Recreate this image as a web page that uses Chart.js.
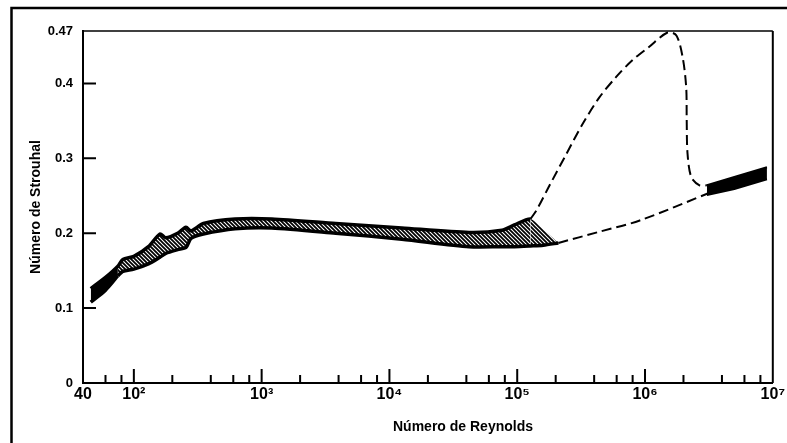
<!DOCTYPE html>
<html>
<head>
<meta charset="utf-8">
<script src="https://cdn.jsdelivr.net/npm/chart.js@4"></script>
<style>
  html, body { margin: 0; padding: 0; background: #fff; }
</style>
</head>
<body>
<canvas id="chart" width="787" height="443"></canvas>
<script>
// Faixa principal (hachurada): bordas superior e inferior no mesmo Re
const bandRe    = [46, 60, 75, 82, 100, 130, 160, 178, 220, 256, 280, 350, 620, 1200, 3800, 12500, 42000, 76000, 95000, 127000, 160000, 210000];
const bandUpper = [0.126, 0.141, 0.156, 0.165, 0.169, 0.182, 0.199, 0.194, 0.200, 0.208, 0.203, 0.213, 0.219, 0.219, 0.213, 0.207, 0.201, 0.204, 0.211, 0.219, 0.205, 0.187];
const bandLower = [0.108, 0.124, 0.143, 0.149, 0.152, 0.159, 0.168, 0.173, 0.178, 0.181, 0.193, 0.199, 0.206, 0.207, 0.200, 0.192, 0.182, 0.182, 0.182, 0.183, 0.184, 0.187];

// Ramo superior tracejado (pico em ~1.5e6)
const upperDashRe = [127000, 143000, 178000, 241000, 323000, 438000, 597000, 796000, 1080000, 1500000, 1760000, 1970000, 2100000, 2120000, 2150000, 2300000, 2670000, 3050000];
const upperDashSt = [0.219, 0.232, 0.263, 0.305, 0.345, 0.381, 0.409, 0.431, 0.449, 0.468, 0.464, 0.435, 0.395, 0.351, 0.307, 0.275, 0.264, 0.264];

// Ramo inferior tracejado
const lowerDashRe = [210000, 440000, 910000, 3200000];
const lowerDashSt = [0.187, 0.202, 0.217, 0.254];

// Faixa final (preta)
const endRe    = [3050000, 5000000, 9000000];
const endUpper = [0.264, 0.275, 0.288];
const endLower = [0.251, 0.259, 0.272];

// Eixos
const yTickValues = [0, 0.1, 0.2, 0.3, 0.4, 0.47];
const yTickLabels = ['0', '0.1', '0.2', '0.3', '0.4', '0.47'];
const xLabelValues = [40, 1e2, 1e3, 1e4, 1e5, 1e6, 1e7];
const xLabelTexts  = ['40', '10²', '10³', '10⁴', '10⁵', '10⁶', '10⁷'];
const xMajorTicks  = [1e2, 1e3, 1e4, 1e5, 1e6];
const xMinorMults  = [2, 4, 6, 8];
const yInnerTicks  = [0.1, 0.2, 0.3, 0.4];

const xTitle = 'Número de Reynolds';
const yTitle = 'Número de Strouhal';

const FONT = 'Arial, "Liberation Sans", sans-serif';
Chart.defaults.font.family = FONT;
Chart.defaults.color = '#000';

// padrão de hachura diagonal
function makeHatch() {
    const s = 4;
    const c = document.createElement('canvas');
    c.width = s; c.height = s;
    const g = c.getContext('2d');
    g.fillStyle = '#fff';
    g.fillRect(0, 0, s, s);
    g.strokeStyle = '#000';
    g.lineWidth = 1.8;
    g.beginPath();
    g.moveTo(-1, -1); g.lineTo(s + 1, s + 1);
    g.moveTo(-1, s - 1); g.lineTo(1, s + 1);
    g.moveTo(s - 1, -1); g.lineTo(s + 1, 1);
    g.stroke();
    return g.createPattern(c, 'repeat');
}
const hatch = makeHatch();

const pts = (xs, ys) => xs.map((x, i) => ({ x, y: ys[i] }));

const framePlugin = {
    id: 'frame',
    beforeDraw(chart) {
        const { ctx } = chart;
        ctx.save();
        ctx.fillStyle = '#fff';
        ctx.fillRect(0, 0, chart.width, chart.height);
        ctx.restore();
    },
    afterDraw(chart) {
        const { ctx, chartArea: a, scales: { x, y } } = chart;
        ctx.save();
        ctx.strokeStyle = '#000';

        // moldura externa
        ctx.lineWidth = 2.5;
        ctx.beginPath();
        ctx.moveTo(11.5, chart.height);
        ctx.lineTo(11.5, 8);
        ctx.lineTo(chart.width, 8);
        ctx.stroke();

        // topo e lado direito da área do gráfico
        ctx.lineWidth = 1.5;
        ctx.beginPath();
        ctx.moveTo(a.left, a.top);
        ctx.lineTo(a.right, a.top);
        ctx.stroke();
        ctx.lineWidth = 2;
        ctx.beginPath();
        ctx.moveTo(a.right, a.top);
        ctx.lineTo(a.right, a.bottom);
        ctx.stroke();

        // marcas internas do eixo X
        ctx.lineWidth = 2;
        ctx.beginPath();
        const decades = [10, 1e2, 1e3, 1e4, 1e5, 1e6];
        decades.forEach(d => {
            xMinorMults.forEach(m => {
                const v = d * m;
                if (v <= 40 || v >= 1e7) return;
                const px = x.getPixelForValue(v);
                ctx.moveTo(px, a.bottom);
                ctx.lineTo(px, a.bottom - 8);
            });
        });
        xMajorTicks.forEach(v => {
            const px = x.getPixelForValue(v);
            ctx.moveTo(px, a.bottom);
            ctx.lineTo(px, a.bottom - 14);
        });
        // marcas internas do eixo Y
        yInnerTicks.forEach(v => {
            const py = y.getPixelForValue(v);
            ctx.moveTo(a.left, py);
            ctx.lineTo(a.left + 13, py);
        });
        ctx.stroke();

        // título do eixo X
        ctx.fillStyle = '#000';
        ctx.font = 'bold 14px ' + FONT;
        ctx.textAlign = 'center';
        ctx.textBaseline = 'middle';
        ctx.fillText(xTitle, 463, 427);
        ctx.restore();
    }
};

new Chart(document.getElementById('chart'), {
    type: 'line',
    data: {
        datasets: [
            {
                label: 'faixa sup',
                data: pts(bandRe, bandUpper),
                borderColor: '#000',
                borderWidth: 3.5,
                tension: 0.25,
                fill: false,
                segment: {
                    borderColor: c => c.p0.parsed.x >= 127000 ? 'rgba(0,0,0,0)' : '#000'
                }
            },
            {
                label: 'faixa inf',
                data: pts(bandRe, bandLower),
                borderColor: '#000',
                borderWidth: 3.5,
                tension: 0.25,
                backgroundColor: hatch,
                fill: '-1',
                segment: {
                    backgroundColor: c => c.p0.parsed.x < 75 ? '#000' : hatch
                }
            },
            {
                label: 'ramo superior',
                data: pts(upperDashRe, upperDashSt),
                borderColor: '#000',
                borderWidth: 2,
                borderDash: [10, 5],
                tension: 0.3,
                fill: false
            },
            {
                label: 'ramo inferior',
                data: pts(lowerDashRe, lowerDashSt),
                borderColor: '#000',
                borderWidth: 2,
                borderDash: [10, 5],
                tension: 0.3,
                fill: false
            },
            {
                label: 'final sup',
                data: pts(endRe, endUpper),
                borderColor: '#000',
                borderWidth: 2,
                fill: false
            },
            {
                label: 'final inf',
                data: pts(endRe, endLower),
                borderColor: '#000',
                borderWidth: 2,
                backgroundColor: '#000',
                fill: '-1'
            }
        ]
    },
    options: {
        responsive: false,
        animation: false,
        events: [],
        elements: { point: { radius: 0 } },
        layout: { padding: { top: 31, right: 14, bottom: 0, left: 0 } },
        plugins: {
            legend: { display: false },
            tooltip: { enabled: false }
        },
        scales: {
            x: {
                type: 'logarithmic',
                min: 40,
                max: 1e7,
                afterBuildTicks: s => { s.ticks = xLabelValues.map(v => ({ value: v })); },
                afterFit: s => { s.height = 60; },
                ticks: {
                    autoSkip: false,
                    maxRotation: 0,
                    padding: 2,
                    font: { size: 16, weight: 'bold' },
                    callback: (v, i) => xLabelTexts[i]
                },
                grid: { display: false, drawTicks: false },
                border: { display: true, color: '#000', width: 2 }
            },
            y: {
                type: 'linear',
                min: 0,
                max: 0.47,
                afterBuildTicks: s => { s.ticks = yTickValues.map(v => ({ value: v })); },
                afterFit: s => { s.width = 83; },
                ticks: {
                    padding: 10,
                    font: { size: 13, weight: 'bold' },
                    callback: (v, i) => yTickLabels[i]
                },
                grid: { display: false, drawTicks: false },
                border: { display: true, color: '#000', width: 2 },
                title: {
                    display: true,
                    text: yTitle,
                    font: { size: 14, weight: 'bold' },
                    padding: { top: 28, bottom: 0 }
                }
            }
        }
    },
    plugins: [framePlugin]
});
</script>
</body>
</html>
